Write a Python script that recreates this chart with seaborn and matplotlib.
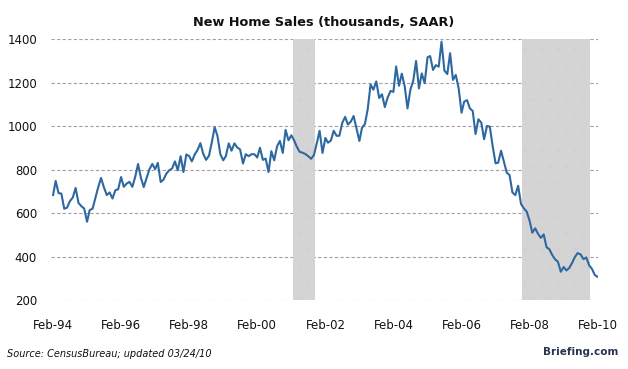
import matplotlib
matplotlib.use("Agg")
import matplotlib.pyplot as plt
import matplotlib.dates as mdates
import seaborn as sns
import numpy as np
import pandas as pd

# monthly new home sales, thousands SAAR, Feb-94 .. Feb-10
sales_94 = [682, 748, 692, 690, 620, 625, 655, 672, 716, 647, 632, 621]
sales_95 = [560, 614, 620, 670, 720, 762, 718, 683, 695, 667, 705, 710]
sales_96 = [766, 721, 736, 744, 721, 766, 826, 762, 720, 762, 802, 826]
sales_97 = [802, 831, 743, 754, 782, 797, 805, 838, 797, 862, 789, 870]
sales_98 = [862, 838, 870, 890, 922, 873, 845, 864, 925, 995, 955, 871]
sales_99 = [843, 862, 921, 887, 921, 902, 893, 828, 871, 862, 871, 871]
sales_00 = [856, 901, 845, 851, 789, 885, 843, 908, 932, 877, 983, 935]
sales_01 = [958, 936, 905, 882, 878, 872, 862, 850, 867, 922, 979, 877]
sales_02 = [946, 924, 934, 979, 956, 956, 1015, 1043, 1008, 1021, 1047, 990]
sales_03 = [932, 993, 1010, 1078, 1192, 1168, 1206, 1130, 1147, 1088, 1132, 1162]
sales_04 = [1158, 1275, 1186, 1242, 1184, 1082, 1168, 1210, 1300, 1174, 1243, 1198]
sales_05 = [1317, 1323, 1259, 1281, 1274, 1389, 1256, 1240, 1336, 1213, 1236, 1174]
sales_06 = [1062, 1113, 1120, 1082, 1070, 964, 1032, 1016, 940, 1001, 998, 908]
sales_07 = [829, 832, 887, 837, 786, 775, 695, 683, 726, 642, 622, 607]
sales_08 = [565, 510, 530, 505, 486, 502, 443, 433, 407, 387, 376, 330]
sales_09 = [352, 336, 347, 370, 398, 416, 410, 388, 396, 360, 343, 315]
sales_10 = [306]

sales = (sales_94 + sales_95 + sales_96 + sales_97 + sales_98 + sales_99 + sales_00
         + sales_01 + sales_02 + sales_03 + sales_04 + sales_05 + sales_06 + sales_07
         + sales_08 + sales_09 + sales_10)
months = pd.date_range("1994-02-01", periods=len(sales), freq="MS")
df = pd.DataFrame({"month": months, "sales": sales})

# shaded periods (recessions as drawn on the chart)
shade_start = ["2001-02-15", "2007-11-15"]
shade_end = ["2001-10-15", "2009-11-12"]

tick_dates = pd.date_range("1994-02-01", "2010-02-01", freq="24MS")
y_ticks = [200, 400, 600, 800, 1000, 1200, 1400]

sns.set_style("white")
plt.rcParams["font.family"] = ["DejaVu Sans"]
plt.rcParams["hatch.linewidth"] = 0.4

fig = plt.figure(figsize=(6.28, 3.69), dpi=100)
ax = fig.add_axes([51 / 628, 1 - 300 / 369, (598 - 51) / 628, (300 - 39.3) / 369])

for s, e in zip(shade_start, shade_end):
    ax.axvspan(pd.Timestamp(s), pd.Timestamp(e), facecolor="#d4d4d4",
               edgecolor="#dacbdc", hatch=".", linewidth=0, zorder=2)

sns.lineplot(data=df, x="month", y="sales", ax=ax, color="#2d68a0",
             linewidth=1.5, zorder=3)

ax.set_ylim(200, 1400)
ax.set_yticks(y_ticks)
ax.set_xlim(pd.Timestamp("1994-01-10"), pd.Timestamp("2010-02-04"))
ax.set_xticks(tick_dates)
ax.xaxis.set_major_formatter(mdates.DateFormatter("%b-%y"))

ax.grid(axis="y", color="#a89ea8", linestyle=(0, (3, 2)), linewidth=0.8, zorder=1)
ax.set_axisbelow(True)
for sp in ax.spines.values():
    sp.set_visible(False)
ax.tick_params(axis="both", length=0, labelsize=8.5, labelcolor="#111111")
ax.tick_params(axis="x", pad=14)
ax.tick_params(axis="y", pad=10)
ax.set_xlabel("")
ax.set_ylabel("")

fig.text(324 / 628, 1 - 22 / 369, "New Home Sales (thousands, SAAR)", ha="center",
         va="center", fontsize=9.3, fontweight="bold", color="#111111")
fig.text(7 / 628, 1 - 354 / 369, "Source: CensusBureau; updated 03/24/10", ha="left",
         va="center", fontsize=7, style="italic", color="#111111")
fig.text(618 / 628, 1 - 352 / 369, "Briefing.com", ha="right", va="center",
         fontsize=7.5, fontweight="bold", color="#2a3550")

fig.savefig("out.png", dpi=100)
